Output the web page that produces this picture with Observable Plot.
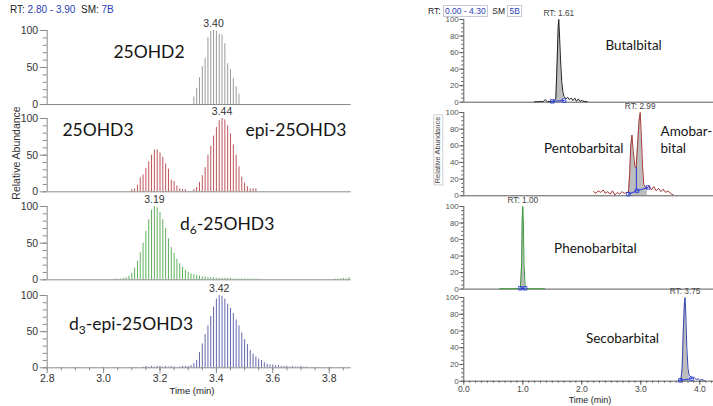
<!DOCTYPE html>
<html><head><meta charset="utf-8">
<script src="https://cdn.jsdelivr.net/npm/d3@7"></script>
<script src="https://cdn.jsdelivr.net/npm/@observablehq/plot@0.6"></script>
<style>
body{margin:0;background:#fff;}
#chart{position:relative;width:713px;height:406px;overflow:hidden;background:#fff;font-family:"Liberation Sans",Arial,sans-serif;}
#chart svg{position:absolute;}
.lbl{position:absolute;white-space:nowrap;line-height:1;}
.ctr{transform:translate(-50%,-50%);}
.rot{transform:translate(-50%,-50%) rotate(-90deg);}
.blue{color:#2b3fb5;}
.box{border:1px solid #c8c8d8;padding:0 1px;}
</style></head><body><div id="chart"></div>
<script>
// ---------------- data: left panel (25-OH vitamin D, RT 2.80-3.90) ----------------
const STEP = 0.01;                       // sampling interval (min)
const leftXTicks = [2.8, 3.0, 3.2, 3.4, 3.6, 3.8];
const leftYTicks = [0, 50, 100];
const leftPeakLabels = ["3.40", "3.44", "3.19", "3.42"];
const leftNames = ["25OHD2", "25OHD3", "epi-25OHD3", "d6-25OHD3", "d3-epi-25OHD3"];

const d2Start = 3.32;
const d2Vals = [10,22,36,51,62,90,99,100,99,95,94,82,55,47,35,24,14];

const d3aStart = 3.10;
const d3aVals = [3,4,9,19,23,32,41,50,57,57,53,47,38,31,16,14,8,4,3,3];
const d3bStart = 3.32;
const d3bVals = [3,6,13,22,33,50,62,76,88,97,100,98,90,79,64,50,34,20,12,7,4,4,4];

const d6Start = 3.04;
const d6Vals = [1,1,1,2,3,5,9,16,25,37,50,66,82,95,100,98,92,82,70,56,44,36,28,22,17,13,10,8,7,6,5,4,4,3,3,3,2,2,2,2,2,2,1,1,1,1,1,1,1,1,1,1];
const d6TailStart = 3.82;
const d6TailVals = [1,1,1,2,1,3];

const d3eBaseStart = 3.14;
const d3eBaseVals = [1,2,1,2,1,2,2,1,2,1,2,1];
const d3eBase2Start = 3.27;
const d3eBase2Vals = [1,2,2];
const d3eStart = 3.30;
const d3eVals = [2,3,6,10,21,33,46,58,71,84,95,100,99,95,88,82,75,66,58,48,39,32,24,19,15,12,10,7,5,4,4,3,3,2,2,2,1,2,1,1,2,1,1];

// ---------------- data: right panel (barbiturates, RT 0.00-4.30) ----------------
const rightXTicks = [0, 1, 2, 3, 4];
const rightYTicks = [0, 20, 40, 60, 80, 100];
const rightPeakLabels = ["RT: 1.61", "RT: 2.99", "RT: 1.00", "RT: 3.75"];

const butT = [1.20,1.25,1.30,1.34,1.38,1.42,1.46,1.50,1.54,1.56,1.58,1.60,1.61,1.62,1.64,1.66,1.68,1.70,1.73,1.76,1.79,1.82,1.85,1.88,1.91,1.94,1.97,2.00,2.04,2.09];
const butV = [0.5,0.5,1,0.5,3,0.5,1,1,2,5,45,92,100,85,50,25,12,7,4,6,3,5,2,5,1,4,1,2,1,0.5];
const butBaseT = [1.50, 1.70];
const butBaseV = [1, 2];

const pentT = [2.20,2.24,2.28,2.32,2.36,2.40,2.44,2.48,2.52,2.56,2.60,2.64,2.68,2.72,2.76,2.79,2.81,2.83,2.85,2.87,2.90,2.92,2.94,2.97,2.99,3.01,3.03,3.05,3.08,3.11,3.14,3.18,3.22,3.26,3.30,3.34,3.38,3.42,3.46,3.50,3.55];
const pentV = [5,3,6,4,7,3,5,2,6,1,4,2,5,3,4,4,25,60,73,55,35,34,55,90,100,70,35,14,10,9,12,7,11,6,9,5,8,4,6,3,1];
const pentBaseT = [2.79, 2.935, 3.12];
const pentBaseV = [2, 6, 10];
const pentSplitT = 2.925, pentSplitV = [6, 34];

const phenT = [0.61,0.70,0.80,0.90,0.94,0.96,0.98,0.99,1.00,1.01,1.02,1.04,1.06,1.10,1.20,1.30,1.37];
const phenV = [0.5,0.5,0.5,0.5,0.5,2,30,85,100,80,30,2,0.5,0.5,0.5,0.5,0.5];
const phenBaseT = [0.96, 1.04];
const phenBaseV = [1, 1];

const secT = [3.64,3.68,3.70,3.72,3.74,3.75,3.76,3.78,3.80,3.82,3.85,3.88,3.91,3.94,3.97,4.00,4.04,4.08];
const secV = [0.5,2,15,60,95,100,85,40,15,7,5,3,4,2,3,1,2,0.5];
const secBaseT = [3.67, 3.86];
const secBaseV = [1, 3];

// ---------------- helpers ----------------
const chart = document.getElementById("chart");
const seq = (start, vals) => vals.map((v, i) => ({t: Math.round((start + i * STEP) * 1000) / 1000, v}));
const pairs = (ts, vs) => ts.map((t, i) => ({t, v: vs[i]}));

function addPlot({left, width, mL, mR, y100, y0, mT = 20, mB = 2, xDomain, xAxis = false, marks}) {
  const height = Math.ceil(mT + (y0 - y100) + mB);
  const mb = height - mT - (y0 - y100);
  const svg = Plot.plot({
    width, height, marginLeft: mL, marginRight: mR, marginTop: mT, marginBottom: mb,
    x: Object.assign({domain: xDomain, label: null}, xAxis ? {} : {axis: null}),
    y: {domain: [0, 100], label: null},
    style: {background: "none", overflow: "visible", fontFamily: "Liberation Sans, Arial, sans-serif"},
    marks
  });
  svg.style.left = left + "px";
  svg.style.top = (y100 - mT) + "px";
  chart.appendChild(svg);
  // subscript digits in "d6-" / "d3-"
  d3.select(svg).selectAll("text").each(function () {
    const m = this.textContent.match(/^d(\d)-(.*)$/);
    if (m && this.childElementCount === 0) {
      this.textContent = "";
      const s = d3.select(this);
      s.append("tspan").text("d");
      s.append("tspan").attr("font-size", 12).attr("dy", 4).text(m[1]);
      s.append("tspan").attr("dy", -4).text("-" + m[2]);
    }
  });
  return svg;
}

const LAX = "#8a8a8a";
function leftRow({series, color, peak, names, y100, y0, xAxis = false}) {
  const all = series.flat();
  const pk = all[d3.maxIndex(all, d => d.v)];
  const marks = [
    Plot.ruleY([0], {stroke: LAX}),
    Plot.ruleX([2.8], {y1: 0, y2: 100, stroke: LAX}),
    Plot.axisY({ticks: leftYTicks, tickSize: 7, tickPadding: 2, fontSize: 10.5, stroke: LAX, fill: "#333", label: null}),
    Plot.axisY({ticks: d3.range(0, 101, 10), tickSize: 4, tickFormat: () => "", stroke: LAX, label: null}),
    ...series.map(s => Plot.ruleX(s, {x: "t", y1: 0, y2: "v", stroke: color, strokeWidth: 1})),
    Plot.text([pk], {x: "t", y: "v", text: () => peak, dy: -7, fontSize: 10.5, fill: "#333"}),
    Plot.text(names, {x: "x", y: "y", text: "text", fontSize: 17.5, fontFamily: "Lato", fill: "#151515"})
  ];
  if (xAxis) {
    marks.push(
      Plot.axisX({ticks: leftXTicks, tickSize: 6, tickPadding: 1, fontSize: 10.5, tickFormat: d3.format(".1f"), stroke: LAX, fill: "#333", label: null}),
      Plot.axisX({ticks: d3.range(2.8, 3.876, 0.05), tickSize: 3, tickFormat: () => "", stroke: LAX, label: null})
    );
  }
  addPlot({left: 0, width: 360, mL: 46.7, mR: 9.3, xDomain: [2.8, 3.878], y100, y0, mB: xAxis ? 30 : 2, xAxis, marks});
}

leftRow({series: [seq(d2Start, d2Vals)], color: "#9a9a9a", peak: leftPeakLabels[0],
  names: [{text: leftNames[0], x: 3.161, y: 70}], y100: 30, y0: 104});
leftRow({series: [seq(d3aStart, d3aVals), seq(d3bStart, d3bVals)], color: "#c0555b", peak: leftPeakLabels[1],
  names: [{text: leftNames[1], x: 2.98, y: 84}, {text: leftNames[2], x: 3.682, y: 84}], y100: 117.7, y0: 191});
leftRow({series: [seq(d6Start, d6Vals), seq(d6TailStart, d6TailVals)], color: "#62b060", peak: leftPeakLabels[2],
  names: [{text: leftNames[3], x: 3.438, y: 76}], y100: 206, y0: 279.3});
leftRow({series: [seq(d3eBaseStart, d3eBaseVals), seq(d3eBase2Start, d3eBase2Vals), seq(d3eStart, d3eVals)], color: "#6468ad", peak: leftPeakLabels[3],
  names: [{text: leftNames[4], x: 3.097, y: 60}], y100: 295, y0: 367.3, xAxis: true});

// ---------------- right panel ----------------
const RAX = "#5a5a5a";
const INT = "#2236e0";
function rightRow({data, color, fillRange, base, split, peak, names, y100, y0, xAxis = false}) {
  const pk = data[d3.maxIndex(data, d => d.v)];
  const fillData = data.filter(d => d.t >= fillRange[0] && d.t <= fillRange[1]);
  const marks = [
    Plot.areaY(fillData, {x: "t", y: "v", fill: "#bdbdbd"}),
    Plot.ruleY([0], {stroke: RAX}),
    Plot.ruleX([0], {y1: 0, y2: 100, stroke: RAX}),
    Plot.axisY({ticks: rightYTicks, tickSize: 4, tickPadding: 1, fontSize: 8, stroke: RAX, fill: "#555", label: null}),
    Plot.axisY({ticks: d3.range(0, 101, 5), tickSize: 2, tickFormat: () => "", stroke: RAX, label: null}),
    Plot.line(data, {x: "t", y: "v", stroke: color, strokeWidth: 1}),
    Plot.line(base, {x: "t", y: "v", stroke: INT, strokeWidth: 1}),
    ...(split ? [Plot.ruleX([split], {x: "t", y1: "v1", y2: "v2", stroke: INT})] : []),
    Plot.dot(base, {x: "t", y: "v", symbol: "square", r: 2, stroke: INT, fill: "none", strokeWidth: 0.8}),
    Plot.text([pk], {x: "t", y: "v", text: () => peak, dy: -6, fontSize: 8.3, fill: "#444"}),
    Plot.text(names, {x: "x", y: "y", text: "text", textAnchor: "start", fontSize: 13.5, fontFamily: "Lato", fill: "#151515"})
  ];
  if (xAxis) {
    marks.push(
      Plot.axisX({ticks: rightXTicks, tickSize: 4, tickPadding: 1, fontSize: 8.5, stroke: RAX, fill: "#444", label: null}),
      Plot.axisX({ticks: d3.range(0, 4.23, 0.1), tickSize: 2, tickFormat: () => "", stroke: RAX, label: null})
    );
  }
  addPlot({left: 400, width: 313, mL: 63.3, mR: 0, xDomain: [0, 4.232], y100, y0, mT: 18, mB: xAxis ? 25 : 2, xAxis, marks});
}

rightRow({data: pairs(butT, butV), color: "#222", fillRange: [1.55, 1.71], base: pairs(butBaseT, butBaseV),
  peak: rightPeakLabels[0], names: [{text: "Butalbital", x: 2.40, y: 68}], y100: 19, y0: 101.7});
rightRow({data: pairs(pentT, pentV), color: "#a33a36", fillRange: [2.79, 3.11], base: pairs(pentBaseT, pentBaseV),
  split: {t: pentSplitT, v1: pentSplitV[0], v2: pentSplitV[1]},
  peak: rightPeakLabels[1], names: [{text: "Pentobarbital", x: 1.36, y: 56}, {text: "Amobar-", x: 3.334, y: 77}, {text: "bital", x: 3.334, y: 56}],
  y100: 111.7, y0: 195});
rightRow({data: pairs(phenT, phenV), color: "#3a9a3a", fillRange: [0.95, 1.05], base: pairs(phenBaseT, phenBaseV),
  peak: rightPeakLabels[2], names: [{text: "Phenobarbital", x: 1.53, y: 49}], y100: 205.7, y0: 288.3});
rightRow({data: pairs(secT, secV), color: "#3346b0", fillRange: [3.66, 3.84], base: pairs(secBaseT, secBaseV),
  peak: rightPeakLabels[3], names: [{text: "Secobarbital", x: 2.07, y: 51}], y100: 297.3, y0: 381, xAxis: true});

// ---------------- headers and axis titles ----------------
chart.insertAdjacentHTML("beforeend", `
<div class="lbl" style="left:10px;top:5px;font-size:10px;color:#222">RT: <span class="blue">2.80 - 3.90</span>&nbsp;&nbsp;SM: <span class="blue">7B</span></div>
<div class="lbl" style="left:428px;top:7px;font-size:8.5px;color:#222">RT: <span class="blue box">0.00 - 4.30</span>&nbsp; SM <span class="blue box">5B</span></div>
<div class="lbl ctr" style="left:192px;top:391px;font-size:9.5px;color:#222">Time (min)</div>
<div class="lbl ctr" style="left:590px;top:400px;font-size:9px;color:#222">Time (min)</div>
<div class="lbl rot" style="left:16px;top:153px;font-size:10.5px;color:#333">Relative Abundance</div>
<div class="lbl rot box" style="left:438px;top:150px;font-size:7.5px;color:#444;border-color:#d0d0d0">Relative Abundance</div>
`);
</script></body></html>
